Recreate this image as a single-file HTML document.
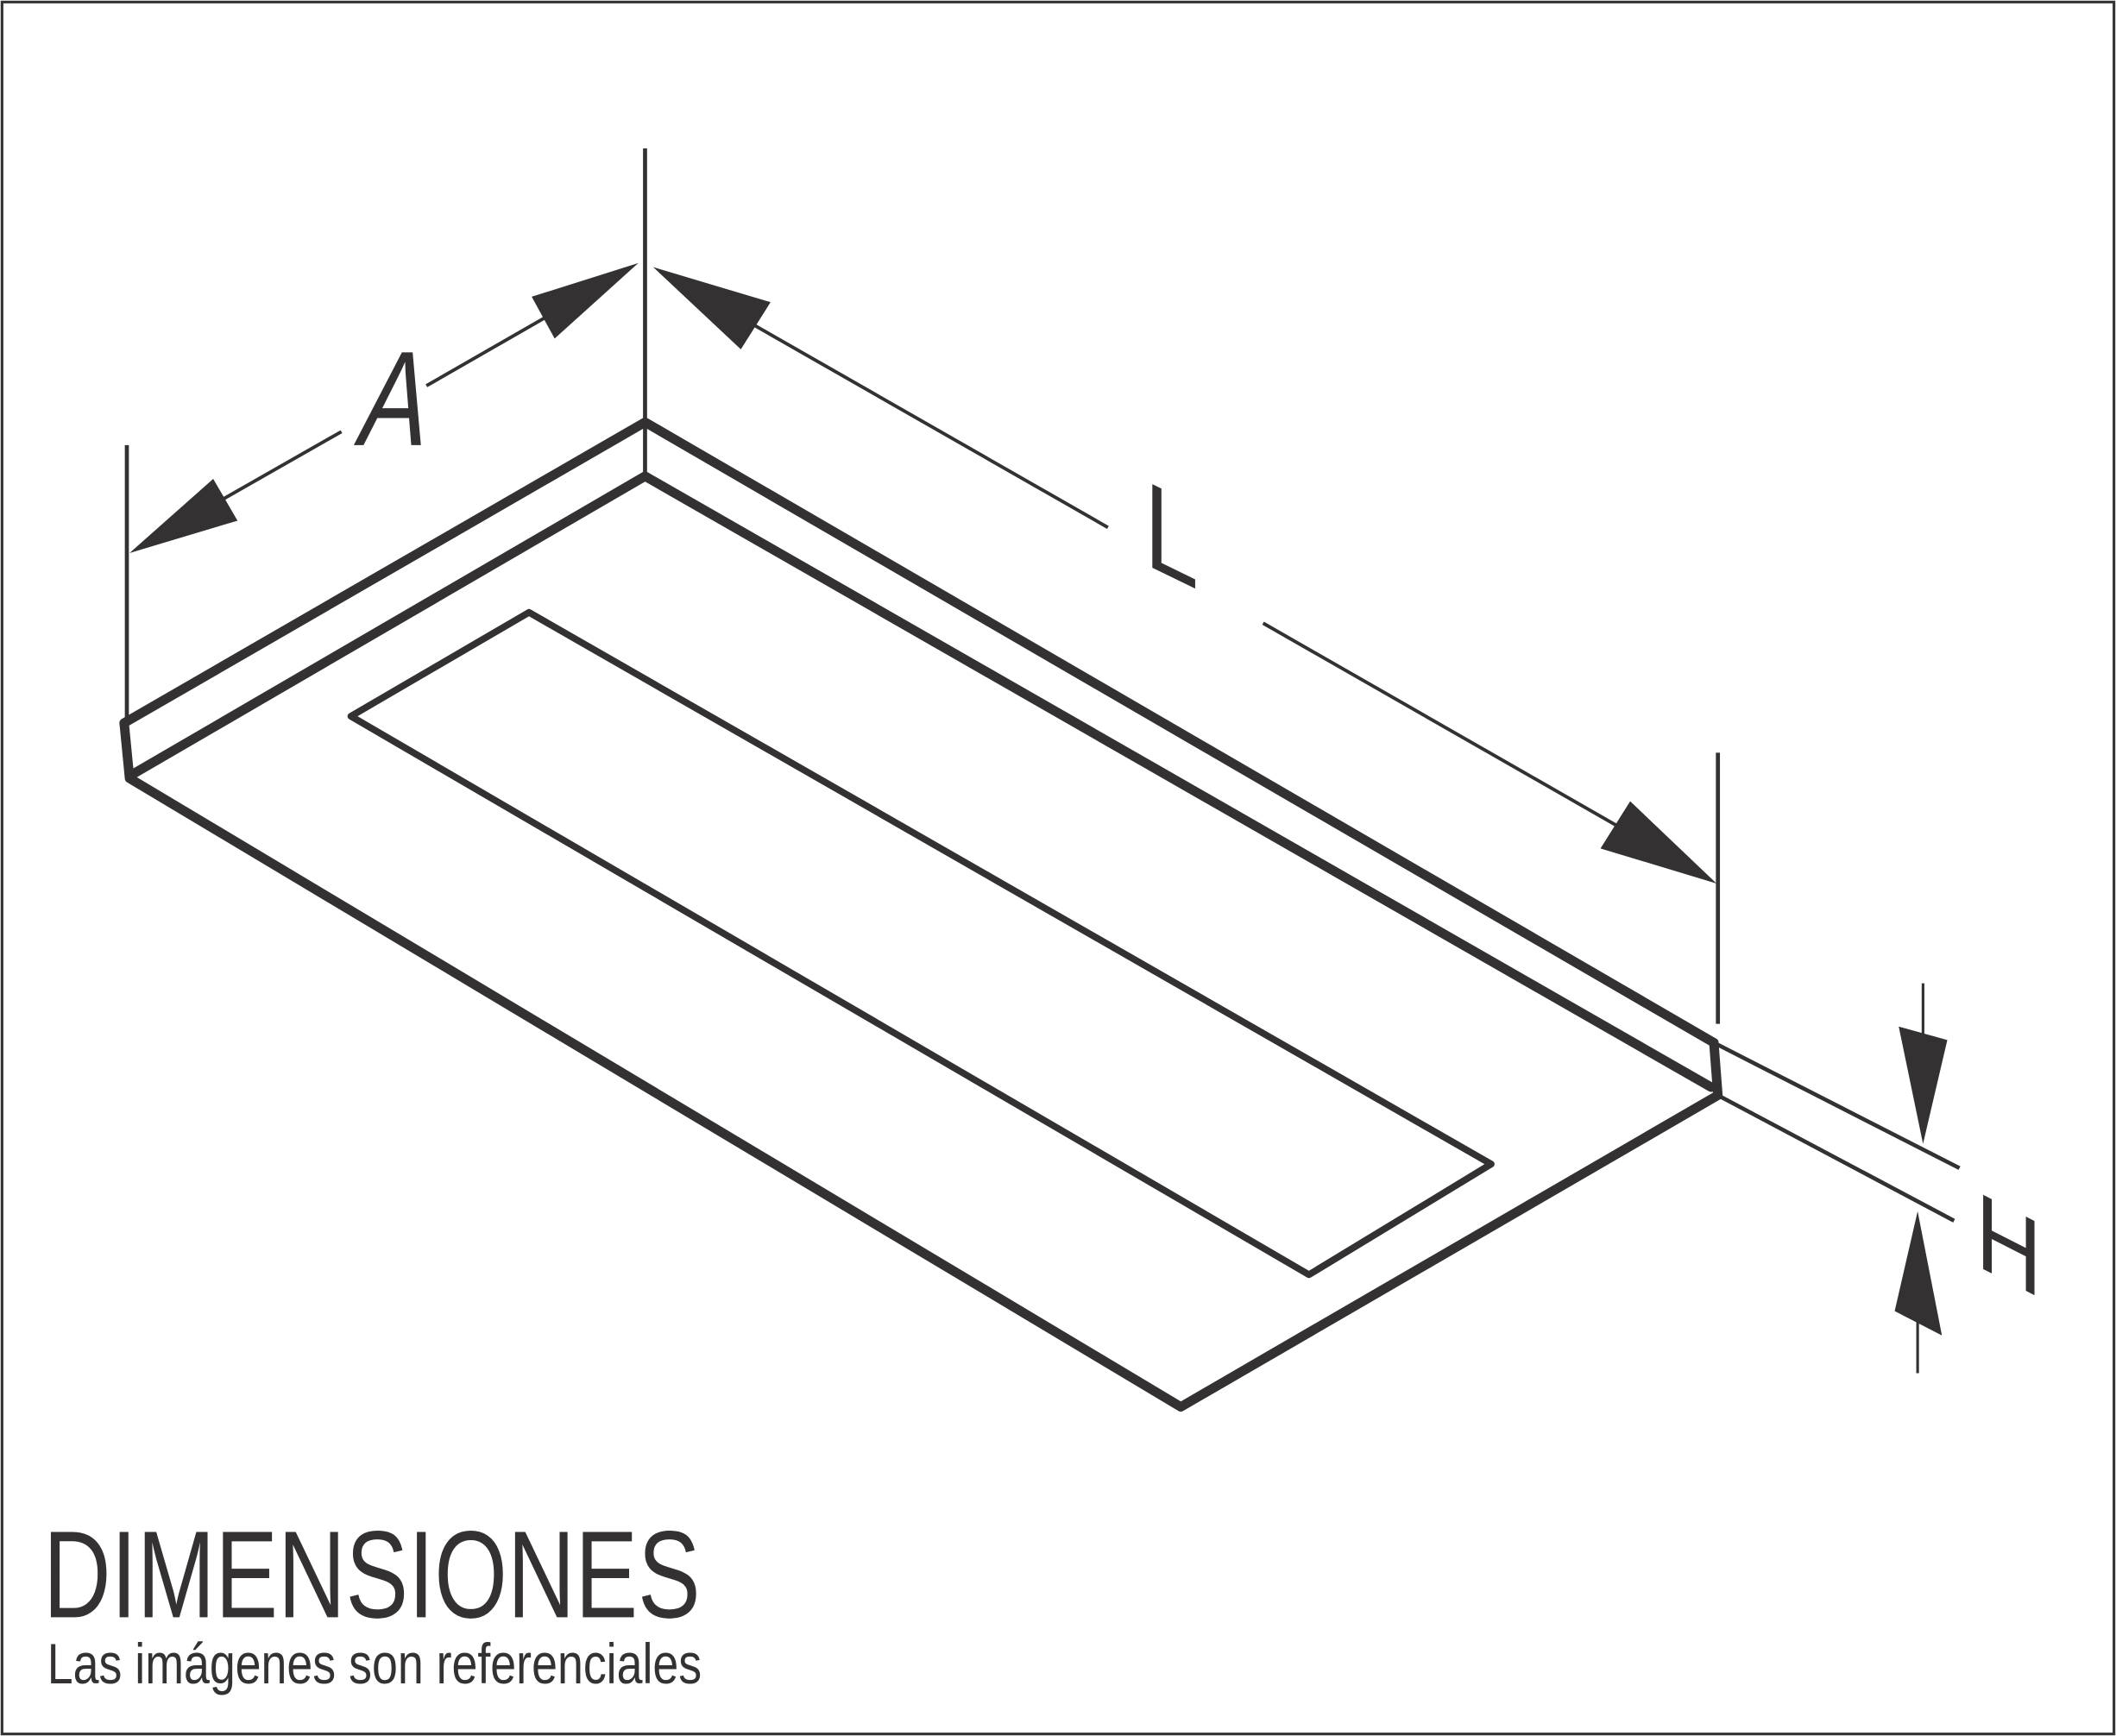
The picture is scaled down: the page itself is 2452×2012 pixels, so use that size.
<!DOCTYPE html>
<html><head><meta charset="utf-8"><style>
html,body{margin:0;padding:0;background:#fff}
svg{display:block}
</style></head>
<body>
<svg width="2452" height="2012" viewBox="0 0 1568 1287" preserveAspectRatio="none" xmlns="http://www.w3.org/2000/svg">
<rect x="1.5" y="1.5" width="1565" height="1284" fill="#fff" stroke="#333" stroke-width="2"/>
<g fill="none" stroke="#333132" stroke-linejoin="round" stroke-linecap="round">
  <polyline points="92,536 478,313 1270,773" stroke-width="7"/>
  <polyline points="100,573 478,353 1268,806" stroke-width="7"/>
  <polyline points="92,536 96,577 875,1043 1273,812 1270,773" stroke-width="7"/>
  <line x1="478" y1="313" x2="478" y2="353" stroke-width="3"/>
  <polygon points="392,454 1105,863 970,945 260,531" stroke-width="5"/>
</g>
<g stroke="#333132" fill="none">
  <line x1="478" y1="110" x2="478" y2="313" stroke-width="3"/>
  <line x1="94" y1="330" x2="94" y2="536" stroke-width="3"/>
  <line x1="160" y1="373" x2="253" y2="320" stroke-width="2.5"/>
  <line x1="316" y1="286" x2="410" y2="232" stroke-width="2.5"/>
  <line x1="550" y1="236" x2="821" y2="391" stroke-width="2.5"/>
  <line x1="936" y1="462" x2="1205" y2="616" stroke-width="2.5"/>
  <line x1="1273" y1="558" x2="1273" y2="759" stroke-width="3"/>
  <line x1="1270" y1="773" x2="1452" y2="866" stroke-width="3"/>
  <line x1="1273" y1="812" x2="1448" y2="905" stroke-width="3"/>
  <line x1="1425" y1="729" x2="1425" y2="770" stroke-width="2"/>
  <line x1="1421" y1="975" x2="1421" y2="1018" stroke-width="2"/>
</g>
<g fill="#333132">
  <polygon points="96,410 176,386 158,355"/>
  <polygon points="473,195 394,220 411,251"/>
  <polygon points="484,198 571,224 549,259"/>
  <polygon points="1272,655 1186,629 1208,594"/>
  <polygon points="1425,848 1407,761 1443,771"/>
  <polygon points="1421,898 1404,972 1439,990"/>
</g>
<g fill="#333132" font-family="'Liberation Sans', sans-serif">
  <text x="0" y="0" font-size="100" transform="translate(262,330) skewX(-12) scale(0.75,1)">A</text>
  <text x="0" y="0" font-size="90" transform="translate(848,418) skewY(26) scale(0.8,1)">L</text>
  <text x="0" y="0" font-size="80" transform="translate(1464,938) skewY(27) scale(0.85,1)">H</text>
</g>
<text x="32" y="1199" font-family="'Liberation Sans', sans-serif" font-size="92" fill="#333132" textLength="487" lengthAdjust="spacingAndGlyphs">DIMENSIONES</text>
<text x="35" y="1248" font-family="'Liberation Sans', sans-serif" font-size="42" fill="#333132" textLength="485" lengthAdjust="spacingAndGlyphs">Las imágenes son referenciales</text>
</svg>
</body></html>
